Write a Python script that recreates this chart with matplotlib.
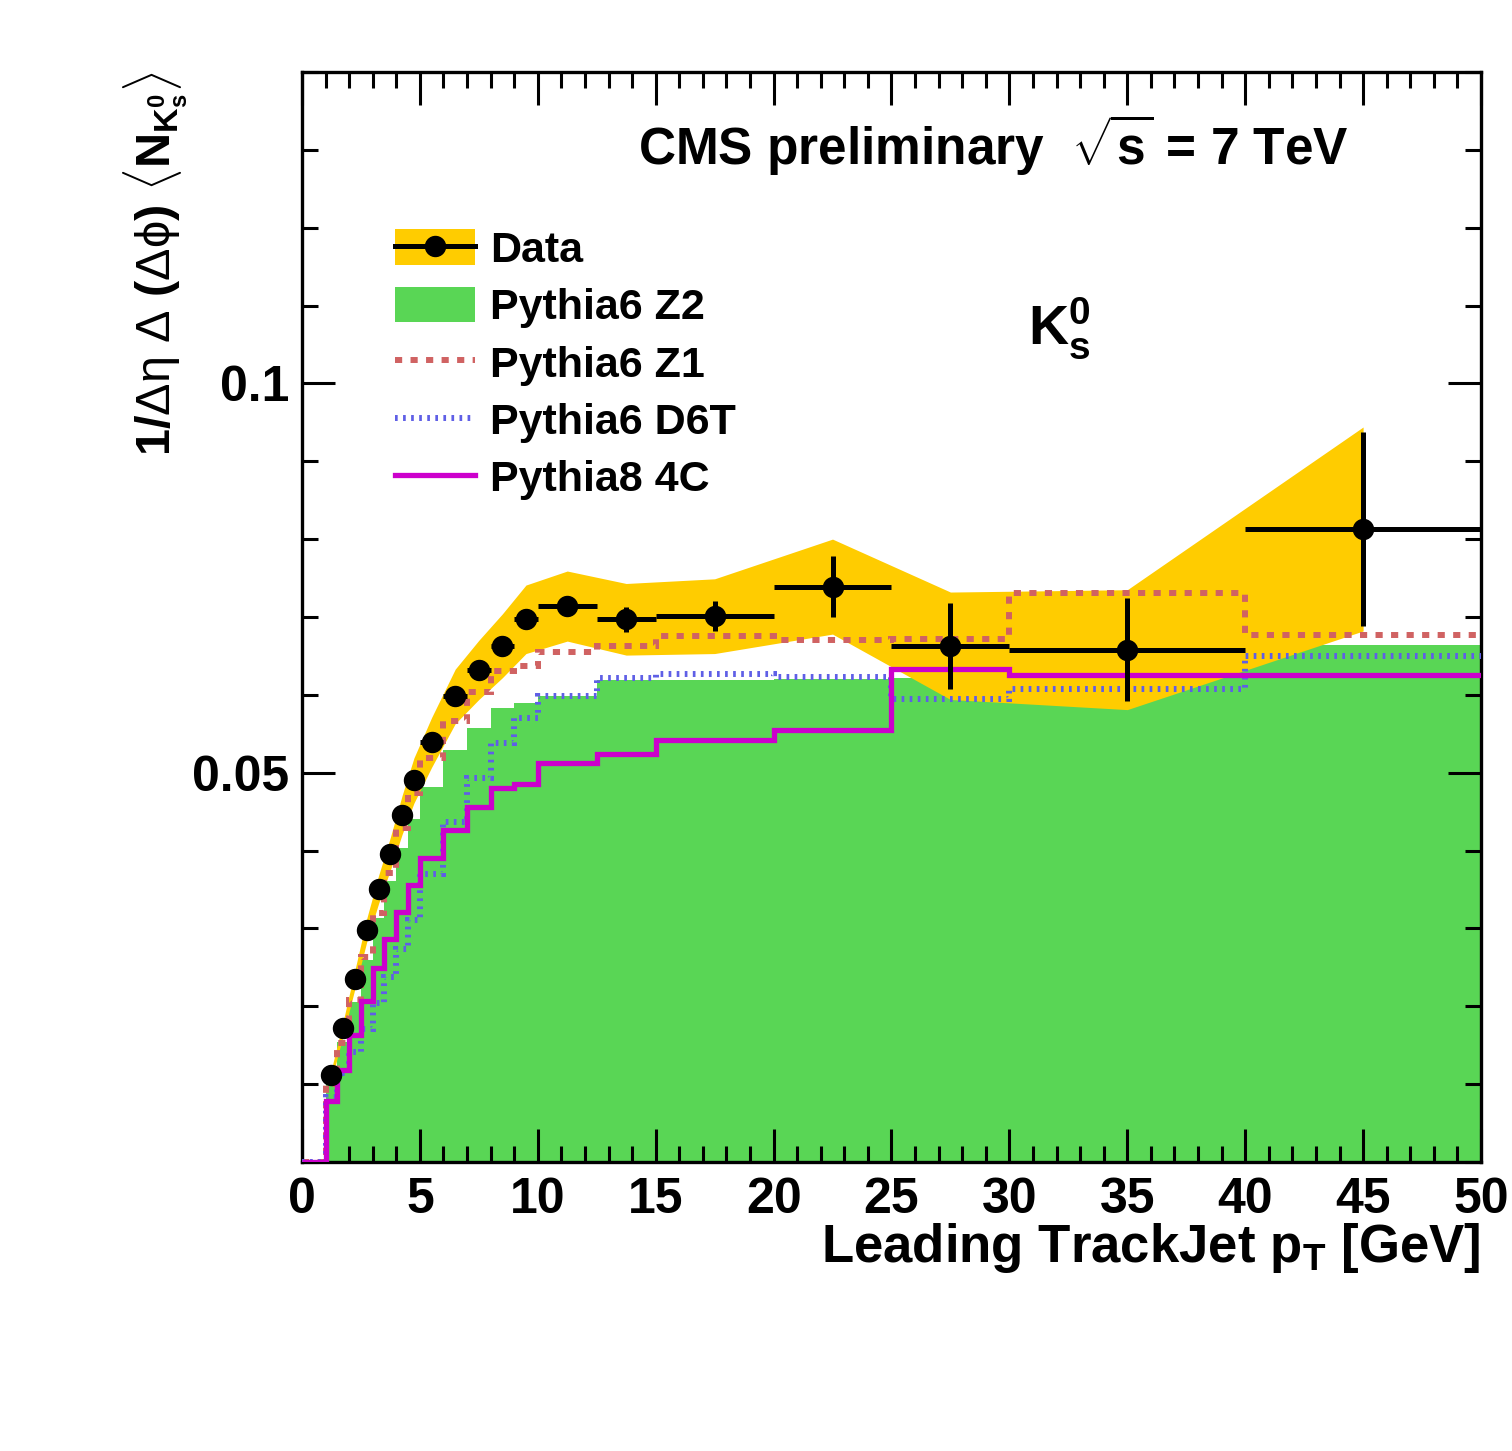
import matplotlib
matplotlib.use('Agg')
import matplotlib.pyplot as plt
import numpy as np
from matplotlib.patches import Patch
from matplotlib.lines import Line2D
from matplotlib.ticker import MultipleLocator

plt.rcParams['font.family'] = 'Liberation Sans'
plt.rcParams['font.weight'] = 'bold'
plt.rcParams['mathtext.fontset'] = 'custom'
plt.rcParams['mathtext.rm'] = 'Liberation Sans:weight=normal'
plt.rcParams['mathtext.it'] = 'Liberation Sans:weight=normal'
plt.rcParams['mathtext.bf'] = 'Liberation Sans:bold'

# binning (GeV)
bin_edges = [0, 1, 1.5, 2, 2.5, 3, 3.5, 4, 4.5, 5, 6, 7, 8, 9, 10, 12.5, 15, 20, 25, 30, 40, 50]

# data (bins from 1 GeV on)
data_val = [0.0112, 0.0172, 0.0235, 0.0298, 0.0350, 0.0396, 0.0446, 0.0490, 0.0539, 0.0598,
            0.0632, 0.0663, 0.0697, 0.0714, 0.0697, 0.0701, 0.0739, 0.0663, 0.0658, 0.0813]
data_stat = [0.0002, 0.0002, 0.0002, 0.0002, 0.0002, 0.0002, 0.0002, 0.0002, 0.0002, 0.0003,
             0.0003, 0.0003, 0.0003, 0.0005, 0.0016, 0.0019, 0.0039, 0.0055, 0.0066, 0.0125]
data_syst = [0.0007, 0.0009, 0.0012, 0.0015, 0.0018, 0.0021, 0.0025, 0.0029, 0.0032, 0.0035,
             0.0038, 0.0041, 0.0044, 0.0045, 0.0046, 0.0048, 0.0061, 0.0069, 0.0077, 0.0131]

# MC predictions (all bins)
z2 = [0, 0.0105, 0.0154, 0.0206, 0.0259, 0.0313, 0.0361, 0.0403, 0.0441, 0.0482, 0.0529,
      0.0557, 0.0583, 0.0590, 0.0598, 0.0619, 0.0619, 0.0620, 0.0621, 0.0630, 0.0664]
z1 = [0, 0.0100, 0.0153, 0.0208, 0.0263, 0.0320, 0.0371, 0.0429, 0.0474, 0.0519, 0.0567,
      0.0604, 0.0630, 0.0637, 0.0655, 0.0663, 0.0675, 0.0670, 0.0672, 0.0731, 0.0677]
d6t = [0, 0.0084, 0.0114, 0.0141, 0.0171, 0.0204, 0.0238, 0.0274, 0.0311, 0.0370, 0.0437,
       0.0493, 0.0538, 0.0570, 0.0599, 0.0622, 0.0627, 0.0623, 0.0595, 0.0608, 0.0650]
p8_4c = [0, 0.0078, 0.0118, 0.0163, 0.0207, 0.0249, 0.0286, 0.0321, 0.0356, 0.0391, 0.0426,
         0.0456, 0.0480, 0.0486, 0.0512, 0.0524, 0.0542, 0.0555, 0.0633, 0.0625, 0.0626]

legend_labels = ['Data', 'Pythia6 Z2', 'Pythia6 Z1', 'Pythia6 D6T', 'Pythia8 4C']
ytick_vals = [0.05, 0.1]
ytick_labels = ['0.05', '0.1']

yellow = '#ffcc00'
green = '#59d655'
red = '#d06262'
blue = '#5f5fe6'
magenta = '#cc00cc'

edges = np.array(bin_edges)
lo = edges[1:-1]
hi = edges[2:]
xc = (lo + hi) / 2
xerr = (hi - lo) / 2
dv = np.array(data_val)
ds = np.array(data_syst)

fig = plt.figure(figsize=(15.12, 14.51), dpi=100)
ax = fig.add_axes([0.1997, 0.1992, 0.7798, 0.7512])

ax.stairs(z2, edges, fill=True, color=green, lw=0, zorder=1)
ax.fill_between(xc, dv - ds, dv + ds, color=yellow, lw=0, zorder=2)
ax.stairs(z1, edges, baseline=None, color=red, lw=4.3, ls=(0, (1.2, 1.4)), zorder=3)
ax.stairs(d6t, edges, baseline=None, color=blue, lw=4.3, ls=(0, (0.45, 0.9)), zorder=3)
ax.stairs(p8_4c, edges, baseline=None, color=magenta, lw=3.8, zorder=4)
ax.errorbar(xc, dv, xerr=xerr, yerr=data_stat, fmt='o', color='black', ms=14.4,
            elinewidth=3.6, capsize=0, zorder=5)

ax.set_xlim(0, 50)
ax.set_ylim(0, 0.14)
ax.xaxis.set_major_locator(MultipleLocator(5))
ax.xaxis.set_minor_locator(MultipleLocator(1))
ax.set_yticks(ytick_vals, labels=ytick_labels)
ax.yaxis.set_minor_locator(MultipleLocator(0.01))
ax.tick_params(which='both', direction='in', top=True, right=True, width=2.2)
ax.tick_params(which='major', length=23.8, labelsize=36)
ax.tick_params(which='minor', length=11.5)
ax.tick_params(axis='x', pad=11)
ax.tick_params(axis='y', pad=9)
for s in ax.spines.values():
    s.set_linewidth(2.4)

ax.text(1.0, -0.0917, r'Leading TrackJet $\mathbf{p_{T}}$ [GeV]', transform=ax.transAxes,
        ha='right', va='baseline', fontsize=38)
ax.text(-0.124, 1.0,
        r'$\mathbf{1/}\Delta\eta\ \Delta\ \mathbf{(}\Delta\phi\mathbf{)}\ \langle\mathbf{N_{K^{0}_{s}}}\rangle$',
        transform=ax.transAxes, rotation=90, ha='center', va='top', fontsize=35)
ax.text(0.285, 0.933, r'CMS preliminary  $\sqrt{\mathbf{s}}$ = 7 TeV', transform=ax.transAxes,
        ha='left', va='center', fontsize=37)
ax.text(0.616, 0.765, r'$\mathbf{K^{0}_{s}}$', transform=ax.transAxes,
        ha='left', va='center', fontsize=40)

handles = [
    (Patch(facecolor=yellow, lw=0), Line2D([], [], color='black', marker='o', ms=14.4, lw=3.6)),
    Patch(facecolor=green, lw=0),
    Line2D([], [], color=red, lw=4.3, ls=(0, (1.2, 1.4))),
    Line2D([], [], color=blue, lw=4.3, ls=(0, (0.45, 0.9))),
    Line2D([], [], color=magenta, lw=3.8),
]
ax.legend(handles, legend_labels, loc='upper left', bbox_to_anchor=(0.0789, 0.8556),
          frameon=False, fontsize=31, handlelength=1.85, handleheight=0.88,
          handletextpad=0.35, labelspacing=0.37, borderpad=0, borderaxespad=0)

fig.savefig('out.png', dpi=100)
